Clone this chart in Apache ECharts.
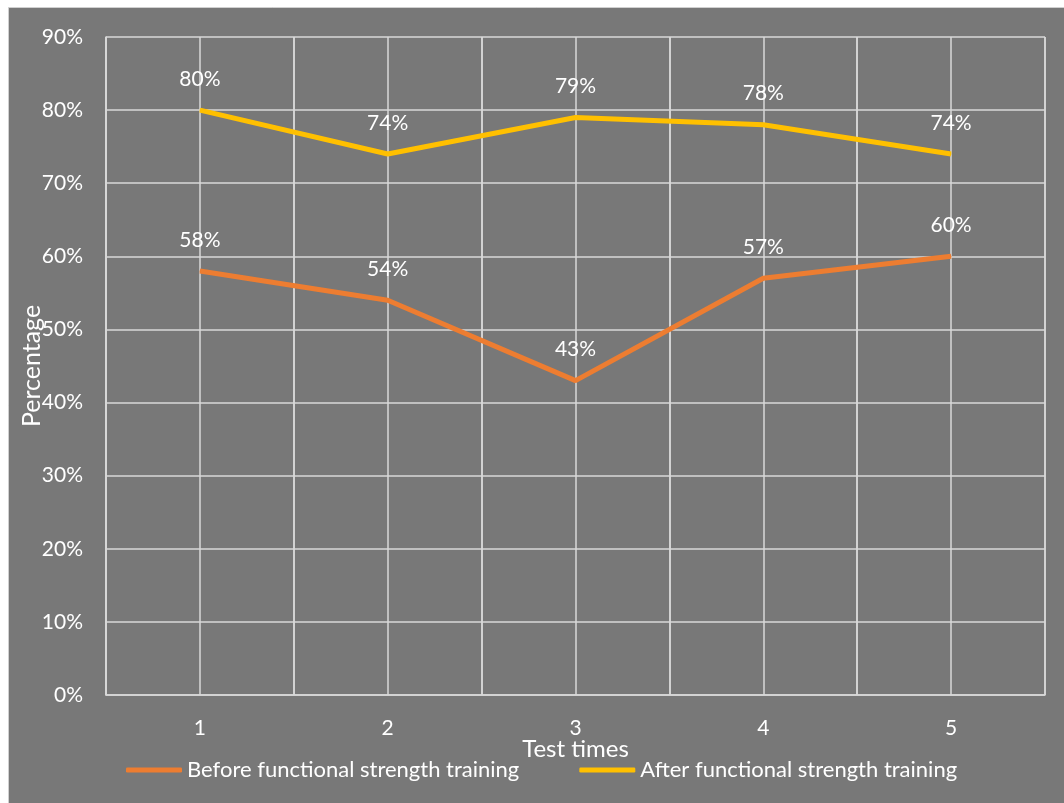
<!DOCTYPE html>
<html><head><meta charset="utf-8">
<script src="https://cdn.jsdelivr.net/npm/echarts@6/dist/echarts.min.js"></script>
<style>html,body{margin:0;padding:0;background:#fff}#c{width:1064px;height:803px}</style>
</head><body><div id="c"></div>
<script>
const categories = ['1','2','3','4','5'];
const halfCategories = ['a','b','c','d','e','f','g','h','i','j'];
const beforeValues = [58, 54, 43, 57, 60];
const afterValues = [80, 74, 79, 78, 74];
const seriesNames = ['Before functional strength training', 'After functional strength training'];
const FONT = 'Lato';
const chart = echarts.init(document.getElementById('c'));
const grid = '#d9d9d9';
chart.setOption({
  animation: false,
  backgroundColor: '#ffffff',
  textStyle: {fontFamily: FONT},
  graphic: [{type:'rect', shape:{x:8.5,y:7.5,width:1070,height:810}, style:{fill:'#787878', stroke:'#d0d0d0', lineWidth:1}, z:-10}],
  grid: {left:106, right:19, top:37, bottom:108, containLabel:false, outerBoundsMode:'none'},
  xAxis: [{
    type:'category', data: categories, boundaryGap:true,
    axisLine:{show:true, lineStyle:{color:grid, width:1.5}},
    axisTick:{show:false},
    axisLabel:{color:'#ffffff', fontSize:21, margin:23, fontFamily:FONT},
    splitLine:{show:true, lineStyle:{color:grid, width:1.5}},
    name:'Test times', nameLocation:'middle', nameGap:42, nameMoveOverlap:false,
    nameTextStyle:{color:'#ffffff', fontSize:24, fontFamily:FONT}
  },{
    type:'category', data: halfCategories, boundaryGap:true, position:'bottom',
    axisLine:{show:false}, axisTick:{show:false}, axisLabel:{show:false},
    splitLine:{show:true, interval:0, lineStyle:{color:grid, width:1.5}}
  }],
  yAxis: {
    type:'value', min:0, max:90, interval:10,
    axisLine:{show:true, lineStyle:{color:grid, width:1.5}},
    axisTick:{show:false},
    axisLabel:{color:'#ffffff', fontSize:21, margin:23, formatter:'{value}%', fontFamily:FONT},
    splitLine:{show:true, lineStyle:{color:grid, width:1.5}},
    name:'Percentage', nameLocation:'middle', nameGap:62, nameMoveOverlap:false,
    nameTextStyle:{color:'#ffffff', fontSize:25, fontFamily:FONT}
  },
  legend: {
    bottom: 17, left: 121, itemWidth:56, itemHeight:5, itemGap:60,
    icon:'roundRect',
    textStyle:{color:'#ffffff', fontSize:22, fontFamily:FONT},
    data: seriesNames
  },
  series: [{
    name: seriesNames[0], type:'line', data: beforeValues, symbol:'circle', symbolSize:1,
    lineStyle:{color:'#ED7D31', width:5}, itemStyle:{color:'#ED7D31'},
    label:{show:true, position:'top', distance:20, color:'#ffffff', fontSize:21, formatter:'{c}%', fontFamily:FONT}
  },{
    name: seriesNames[1], type:'line', data: afterValues, symbol:'circle', symbolSize:1,
    lineStyle:{color:'#FFC000', width:5}, itemStyle:{color:'#FFC000'},
    label:{show:true, position:'top', distance:20, color:'#ffffff', fontSize:21, formatter:'{c}%', fontFamily:FONT}
  }]
});
</script></body></html>
